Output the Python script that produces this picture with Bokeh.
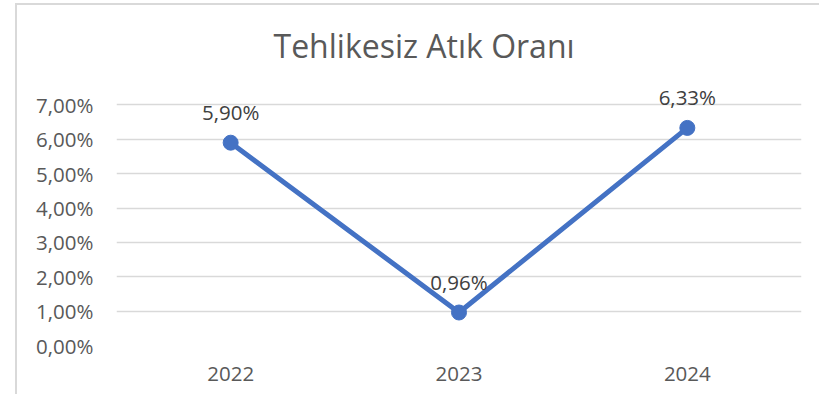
from bokeh.plotting import figure
from bokeh.models import (ColumnDataSource, FactorRange, Range1d, FixedTicker,
                          CustomJSTickFormatter, LabelSet, Title)
from bokeh.core.properties import value
from bokeh.embed import file_html
from bokeh.resources import INLINE

# ---- data ----
years = ["2022", "2023", "2024"]
rates = [5.90, 0.96, 6.33]          # percent
y_ticks = [0, 1, 2, 3, 4, 5, 6, 7]
title_text = "Tehlikesiz Atık Oranı"

labels = [("%.2f" % v).replace(".", ",") + "%" for v in rates]
src = ColumnDataSource(dict(x=years, y=rates, lab=labels))

FONT = "Open Sans"
BLUE = "#4472C4"
FS = "20.5px"

p = figure(width=804, height=391, x_range=FactorRange(*years, range_padding=0),
           y_range=Range1d(0, 8), output_backend="svg", toolbar_location=None,
           min_border_left=99, min_border_right=20, min_border_top=65,
           min_border_bottom=51)
p.styles = {"position": "relative", "left": "17px", "top": "5px",
            "box-shadow": "-2px -2px 0 0 #d9d9d9"}
p.outline_line_color = None
p.background_fill_color = "white"
p.border_fill_color = "white"

t = Title(text=title_text, align="left", text_font=FONT, text_font_size="32px",
          text_font_style="normal", text_color="#595959", offset=157, standoff=7)
p.add_layout(t, "above")

p.line("x", "y", source=src, line_color=BLUE, line_width=5)
p.scatter("x", "y", source=src, size=15, fill_color=BLUE, line_color=BLUE)

ls = LabelSet(x="x", y="y", text="lab", source=src, text_align="center",
              text_baseline="middle", y_offset=31, text_font=value(FONT),
              text_font_size=value(FS), text_color=value("#404040"))
p.add_layout(ls)

p.xgrid.grid_line_color = None
p.ygrid.grid_line_color = "#d9d9d9"
p.ygrid.grid_line_width = 1.5

p.yaxis.ticker = FixedTicker(ticks=y_ticks)
p.yaxis.formatter = CustomJSTickFormatter(code="return tick.toFixed(2).replace('.', ',') + '%';")
for ax in (p.xaxis[0], p.yaxis[0]):
    ax.axis_line_color = None
    ax.major_tick_line_color = None
    ax.minor_tick_line_color = None
    ax.major_label_text_font = FONT
    ax.major_label_text_font_size = FS
    ax.major_label_text_color = "#595959"
p.yaxis.major_label_standoff = 17
p.xaxis.major_label_standoff = 15

open("out.html", "w").write(file_html(p, INLINE))
